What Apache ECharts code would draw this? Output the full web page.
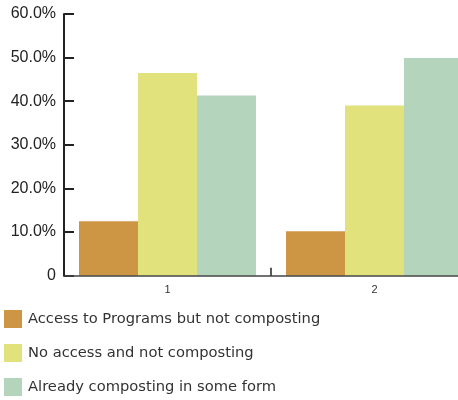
<!DOCTYPE html>
<html>
<head>
<meta charset="utf-8">
<script src="https://cdn.jsdelivr.net/npm/echarts@6/dist/echarts.min.js"></script>
<style>
  html, body { margin: 0; padding: 0; background: #fff; }
  #chart { width: 458px; height: 400px; }
</style>
</head>
<body>
<div id="chart"></div>
<script>
// Survey groups along the x axis
const categories = ['1', '2'];

// Share of respondents (%) per group
const accessNotComposting = [12.5, 10.2];
const noAccessNotComposting = [46.5, 39.0];
const alreadyComposting = [41.3, 49.9];

const seriesNames = [
  'Access to Programs but not composting',
  'No access and not composting',
  'Already composting in some form'
];
const seriesColors = ['#CC9644', '#E1E27C', '#B4D4BC'];

const chart = echarts.init(document.getElementById('chart'), null, { renderer: 'canvas' });

function barSeries(name, data, color) {
  return {
    name: name,
    type: 'bar',
    data: data,
    barGap: '0%',
    barCategoryGap: '14.5%',
    itemStyle: { color: color },
    emphasis: { disabled: true }
  };
}

chart.setOption({
  animation: false,
  textStyle: { fontFamily: 'Liberation Sans' },
  // the plot runs a little past the right edge, so the last bar is cut off
  grid: { left: 64, top: 14, right: -20, bottom: 124.3, containLabel: false, outerBoundsMode: 'none' },
  legend: {
    orient: 'vertical',
    left: 4,
    top: 310,
    height: 90,
    padding: 0,
    itemWidth: 18,
    itemHeight: 18,
    itemGap: 16,
    icon: 'rect',
    textStyle: { fontFamily: 'DejaVu Sans', fontSize: 14.7, color: '#333', padding: [0, 0, 0, 1] },
    data: seriesNames
  },
  xAxis: {
    type: 'category',
    data: categories,
    z: 5,
    axisLine: { lineStyle: { color: '#444', width: 1.5 } },
    axisTick: { show: true, interval: 0, alignWithLabel: false, inside: true, length: 8, lineStyle: { color: '#222', width: 1.5 } },
    axisLabel: { color: '#333', fontSize: 11, margin: 9 }
  },
  yAxis: {
    type: 'value',
    min: 0,
    max: 60,
    interval: 10,
    splitLine: { show: false },
    axisLine: { show: true, lineStyle: { color: '#222', width: 2 } },
    axisTick: { show: true, inside: true, length: 10, lineStyle: { color: '#222', width: 2 } },
    axisLabel: {
      color: '#222',
      fontSize: 16,
      margin: 8,
      formatter: v => v === 0 ? '0' : v.toFixed(1) + '%'
    }
  },
  series: [
    barSeries(seriesNames[0], accessNotComposting, seriesColors[0]),
    barSeries(seriesNames[1], noAccessNotComposting, seriesColors[1]),
    barSeries(seriesNames[2], alreadyComposting, seriesColors[2])
  ]
});
</script>
</body>
</html>
